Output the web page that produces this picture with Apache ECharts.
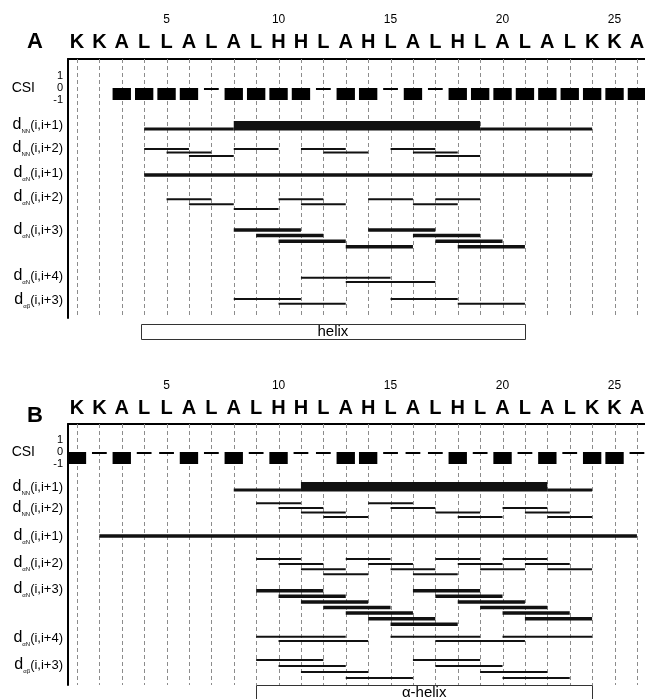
<!DOCTYPE html>
<html>
<head>
<meta charset="utf-8">
<script src="https://cdn.jsdelivr.net/npm/echarts@6/dist/echarts.min.js"></script>
<style>
  html, body { margin: 0; background: #fff; }
  #main { width: 645px; height: 699px; }
</style>
</head>
<body>
<div id="main"></div>
<script>
// peptide sequence, residue numbering
const sequence = ['K','K','A','L','L','A','L','A','L','H','H','L','A','H','L','A','L','H','L','A','L','A','L','K','K','A'];
const numberTicks = [5, 10, 15, 20, 25];

// chemical shift index per residue (null = none)
const csiA = [null, null, -1, -1, -1, -1, 0, -1, -1, -1, -1, 0, -1, -1, 0, -1, 0, -1, -1, -1, -1, -1, -1, -1, -1, -1];
const csiB = [-1, 0, -1, 0, 0, -1, 0, -1, 0, -1, 0, 0, -1, -1, 0, 0, 0, -1, 0, -1, 0, -1, 0, -1, -1, 0];

// NOE connectivities, panel A: [from residue, to residue, track]
const dNN1WeakA = [[4, 8, 0], [19, 24, 0]];
const dNN1StrongA = [[8, 19, 0]];
const dNN2A = [[4, 6, 0], [5, 7, 1], [6, 8, 2], [8, 10, 0], [11, 13, 0], [12, 14, 1], [15, 17, 0], [16, 18, 1], [17, 19, 2]];
const daN1A = [[4, 24, 0]];
const daN2A = [[5, 7, 0], [6, 8, 1], [8, 10, 2], [10, 12, 0], [11, 13, 1], [14, 16, 0], [16, 18, 1], [17, 19, 0]];
const daN3A = [[8, 11, 0], [9, 12, 1], [10, 13, 2], [13, 16, 3], [14, 17, 0], [16, 19, 1], [17, 20, 2], [18, 21, 3]];
const daN4A = [[11, 15, 0], [13, 17, 1]];
const dabA = [[8, 11, 0], [10, 13, 1], [15, 18, 0], [18, 21, 1]];
const helixA = [[3.85, 21]];

// panel B
const dNN1WeakB = [[8, 11, 0], [22, 24, 0]];
const dNN1StrongB = [[11, 22, 0]];
const dNN2B = [[9, 11, 0], [10, 12, 1], [11, 13, 2], [12, 14, 3], [14, 16, 0], [15, 17, 1], [17, 19, 2], [18, 20, 3], [20, 22, 1], [21, 23, 2], [22, 24, 3]];
const daN1B = [[2, 26, 0]];
const daN2B = [[9, 11, 0], [10, 12, 1], [11, 13, 2], [12, 14, 3], [13, 15, 0], [14, 16, 1], [15, 17, 2], [16, 18, 3], [17, 19, 0], [18, 20, 1], [19, 21, 2], [20, 22, 0], [21, 23, 1], [22, 24, 2]];
const daN3B = [[9, 12, 0], [10, 13, 1], [11, 14, 2], [12, 15, 3], [13, 16, 4], [14, 17, 5], [15, 18, 6], [16, 19, 0], [17, 20, 1], [18, 21, 2], [19, 22, 3], [20, 23, 4], [21, 24, 5]];
const daN4B = [[9, 13, 0], [10, 14, 1], [15, 19, 0], [17, 21, 1], [20, 24, 0]];
const dabB = [[9, 12, 0], [10, 13, 1], [11, 14, 2], [13, 16, 3], [16, 19, 0], [17, 20, 1], [19, 22, 2], [20, 23, 3]];
const helixB = [[9, 24]];

const font = "'Liberation Sans', Arial, sans-serif";
const X_MIN = 0.6, X_MAX = 26.36;

const panelA = {
  label: 'A', labelPos: [35, 42], top: 59, height: 259, csiTop: 70,
  letterY: -17, numberY: -39, csi: csiA,
  helix: helixA, helixText: 'helix', helixTop: 265.3, helixBottom: 280.3,
  rows: [
    {sub: 'NN', rng: '(i,i+1)', labelY: 66, sets: [{data: dNN1WeakA, y: 70, h: 3}, {data: dNN1StrongA, y: 66.75, h: 9.5}]},
    {sub: 'NN', rng: '(i,i+2)', labelY: 89, sets: [{data: dNN2A, y: 90, step: 3.5, h: 2}]},
    {sub: 'αN', rng: '(i,i+1)', labelY: 114, sets: [{data: daN1A, y: 116, h: 3.5}]},
    {sub: 'αN', rng: '(i,i+2)', labelY: 138, sets: [{data: daN2A, y: 140.3, step: 4.9, h: 2}]},
    {sub: 'αN', rng: '(i,i+3)', labelY: 171, sets: [{data: daN3A, y: 171, step: 5.6, h: 3.5}]},
    {sub: 'αN', rng: '(i,i+4)', labelY: 217, sets: [{data: daN4A, y: 218.7, step: 4.3, h: 2}]},
    {sub: 'αβ', rng: '(i,i+3)', labelY: 241, sets: [{data: dabA, y: 240, step: 4.7, h: 2}]}
  ]
};

const panelB = {
  label: 'B', labelPos: [35, 416], top: 424, height: 261, csiTop: 434,
  letterY: -16, numberY: -38, csi: csiB,
  helix: helixB, helixText: 'α-helix', helixTop: 261, helixBottom: 277,
  rows: [
    {sub: 'NN', rng: '(i,i+1)', labelY: 63, sets: [{data: dNN1WeakB, y: 66, h: 3}, {data: dNN1StrongB, y: 62.75, h: 9.5}]},
    {sub: 'NN', rng: '(i,i+2)', labelY: 84, sets: [{data: dNN2B, y: 79.3, step: 4.6, h: 2}]},
    {sub: 'αN', rng: '(i,i+1)', labelY: 112, sets: [{data: daN1B, y: 112, h: 3.5}]},
    {sub: 'αN', rng: '(i,i+2)', labelY: 139, sets: [{data: daN2B, y: 135, step: 5.1, h: 2}]},
    {sub: 'αN', rng: '(i,i+3)', labelY: 165, sets: [{data: daN3B, y: 166.7, step: 5.6, h: 3.5}]},
    {sub: 'αN', rng: '(i,i+4)', labelY: 214, sets: [{data: daN4B, y: 212.7, step: 4.3, h: 2}]},
    {sub: 'αβ', rng: '(i,i+3)', labelY: 241, sets: [{data: dabB, y: 236, step: 6, h: 2}]}
  ]
};

const option = {
  animation: false,
  backgroundColor: '#fff',
  grid: [], xAxis: [], yAxis: [], series: [], graphic: []
};

function buildPanel(p, g) {
  const main = g * 2, csi = g * 2 + 1;
  option.grid.push({left: 68, top: p.top, width: 577, height: p.height, outerBoundsMode: 'none'});
  option.grid.push({left: 68, top: p.csiTop, width: 577, height: 36, outerBoundsMode: 'none'});

  option.xAxis.push({
    gridIndex: main, type: 'value', position: 'top', min: X_MIN, max: X_MAX,
    axisLine: {show: true, onZero: false, lineStyle: {color: '#000', width: 2}},
    axisTick: {show: false}, axisLabel: {show: false}, splitLine: {show: false}
  });
  option.xAxis.push({gridIndex: csi, type: 'value', min: X_MIN, max: X_MAX, show: false});

  option.yAxis.push({
    gridIndex: main, type: 'value', inverse: true, min: 0, max: p.height,
    axisLine: {show: true, onZero: false, lineStyle: {color: '#000', width: 2}},
    axisTick: {show: false}, splitLine: {show: false},
    axisLabel: {
      customValues: p.rows.map(r => r.labelY),
      margin: 5,
      formatter: v => {
        const r = p.rows.find(r => Math.abs(r.labelY - v) < 0.01);
        return r ? '{d|d}{s|' + r.sub + '}{p|' + r.rng + '}' : '';
      },
      rich: {
        d: {fontSize: 16, fontFamily: font, color: '#000', lineHeight: 18},
        s: {fontSize: 6, fontFamily: font, color: '#000', lineHeight: 6, verticalAlign: 'bottom'},
        p: {fontSize: 13, fontFamily: font, color: '#000', lineHeight: 18}
      }
    }
  });
  option.yAxis.push({
    gridIndex: csi, type: 'value', min: -1.5, max: 1.5,
    axisLine: {show: false}, axisTick: {show: false}, splitLine: {show: false},
    axisLabel: {customValues: [-1, 0, 1], margin: 5, fontSize: 11, color: '#000', fontFamily: font},
    name: 'CSI', nameLocation: 'middle', nameRotate: 0, nameGap: 33,
    nameTextStyle: {fontSize: 14, color: '#000', fontFamily: font}
  });

  // dashed residue lines
  option.series.push({
    type: 'custom', xAxisIndex: main, yAxisIndex: main, clip: false, silent: true, z: 1,
    data: sequence.map((s, i) => [i + 1]),
    renderItem: (params, api) => {
      const a = api.coord([api.value(0), 0]);
      const b = api.coord([api.value(0), p.height]);
      const x = Math.round(a[0]) + 0.5;
      return {type: 'line', shape: {x1: x, y1: a[1], x2: x, y2: b[1]},
        style: {stroke: '#8c8c8c', lineWidth: 1, lineDash: [4, 3]}};
    }
  });

  // sequence letters
  option.series.push({
    type: 'custom', xAxisIndex: main, yAxisIndex: main, clip: false, silent: true, z: 2,
    data: sequence.map((s, i) => [i + 1]),
    renderItem: (params, api) => {
      const r = api.value(0);
      const pt = api.coord([r, p.letterY]);
      return {type: 'text', x: pt[0], y: pt[1],
        style: {text: sequence[r - 1], font: 'bold 20px ' + font, fill: '#000', align: 'center', verticalAlign: 'middle'}};
    }
  });

  // residue numbers
  option.series.push({
    type: 'custom', xAxisIndex: main, yAxisIndex: main, clip: false, silent: true, z: 2,
    data: numberTicks.map(n => [n]),
    renderItem: (params, api) => {
      const n = api.value(0);
      const pt = api.coord([n, p.numberY]);
      return {type: 'text', x: pt[0], y: pt[1],
        style: {text: String(n), font: '12px ' + font, fill: '#000', align: 'center', verticalAlign: 'middle'}};
    }
  });

  // CSI boxes and dashes
  option.series.push({
    type: 'custom', xAxisIndex: csi, yAxisIndex: csi, clip: false, silent: true, z: 3,
    data: p.csi.map((v, i) => [i + 1, v]).filter(d => d[1] !== null),
    renderItem: (params, api) => {
      const r = api.value(0), v = api.value(1);
      if (v < 0) {
        const a = api.coord([r - 0.41, 0]);
        const b = api.coord([r + 0.41, v]);
        return {type: 'rect', shape: {x: a[0], y: a[1], width: b[0] - a[0], height: b[1] - a[1]}, style: {fill: '#000'}};
      }
      const a = api.coord([r - 0.33, 0]);
      const b = api.coord([r + 0.33, 0]);
      return {type: 'rect', shape: {x: a[0], y: a[1], width: b[0] - a[0], height: 2}, style: {fill: '#000'}};
    }
  });

  // NOE bars
  p.rows.forEach(row => row.sets.forEach(set => {
    option.series.push({
      type: 'custom', xAxisIndex: main, yAxisIndex: main, clip: false, silent: true, z: 3,
      data: set.data,
      renderItem: (params, api) => {
        const y = set.y + api.value(2) * (set.step || 0);
        const a = api.coord([api.value(0), y]);
        const b = api.coord([api.value(1), y]);
        return {type: 'rect', shape: {x: a[0], y: a[1] - set.h / 2, width: b[0] - a[0], height: set.h},
          style: {fill: '#111'}};
      }
    });
  }));

  // secondary structure box
  option.series.push({
    type: 'custom', xAxisIndex: main, yAxisIndex: main, clip: false, silent: true, z: 4,
    data: p.helix,
    renderItem: (params, api) => {
      const a = api.coord([api.value(0), p.helixTop]);
      const b = api.coord([api.value(1), p.helixBottom]);
      return {type: 'group', children: [
        {type: 'rect', shape: {x: Math.round(a[0]) + 0.5, y: Math.round(a[1]) + 0.5, width: Math.round(b[0] - a[0]), height: Math.round(b[1] - a[1])},
          style: {fill: '#fff', stroke: '#333', lineWidth: 1}},
        {type: 'text', x: (a[0] + b[0]) / 2, y: (a[1] + b[1]) / 2,
          style: {text: p.helixText, font: '15px ' + font, fill: '#000', align: 'center', verticalAlign: 'middle'}}
      ]};
    }
  });

  option.graphic.push({
    type: 'text', x: p.labelPos[0], y: p.labelPos[1],
    style: {text: p.label, font: 'bold 22px ' + font, fill: '#000', align: 'center', verticalAlign: 'middle'}
  });
}

buildPanel(panelA, 0);
buildPanel(panelB, 1);

const chart = echarts.init(document.getElementById('main'), null, {renderer: 'canvas'});
chart.setOption(option);
</script>
</body>
</html>
